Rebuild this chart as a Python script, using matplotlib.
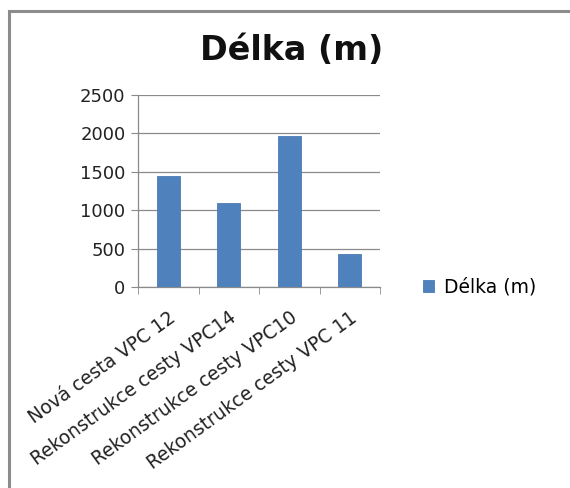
import matplotlib
matplotlib.use("Agg")
import matplotlib.pyplot as plt
from matplotlib.patches import Rectangle
import numpy as np

categories = ["Nová cesta VPC 12", "Rekonstrukce cesty VPC14",
              "Rekonstrukce cesty VPC10", "Rekonstrukce cesty VPC 11"]
lengths = [1450, 1095, 1970, 425]
series_name = "Délka (m)"
y_ticks = [0, 500, 1000, 1500, 2000, 2500]

plt.rcParams["font.family"] = ["DejaVu Sans"]

W, H = 570, 488
fig = plt.figure(figsize=(W / 100, H / 100), dpi=100)
fig.patch.set_facecolor("white")

# outer chart frame (gray border)
fig.add_artist(Rectangle((9 / W, -0.1), 1.2, (H - 11) / H + 0.1,
                         transform=fig.transFigure, fill=False,
                         edgecolor="#8c8c8c", linewidth=2.2))

ax = fig.add_axes([138 / W, (H - 287) / H, (380 - 138) / W, (287 - 95) / H])
x = np.arange(len(categories))
ax.bar(x, lengths, width=0.375, color="#4f81bd", edgecolor="#4a7ab5",
       linewidth=0.6, label=series_name, zorder=3)

ax.set_xlim(-0.5, len(categories) - 0.5)
ax.set_ylim(0, 2500)
ax.set_yticks(y_ticks)
ax.set_yticklabels([str(v) for v in y_ticks], fontsize=13, color="#222222")
ax.yaxis.grid(True, color="#8a8a8a", linewidth=0.9, zorder=0)
ax.tick_params(axis="y", length=5, color="#8a8a8a", pad=4)

ax.set_xticks(x)
ax.set_xticklabels(categories, rotation=36, ha="right", rotation_mode="anchor",
                   fontsize=13.4, color="#222222")
ax.set_xticks(np.arange(-0.5, len(categories)), minor=True)
ax.tick_params(axis="x", which="major", length=0, pad=15)
ax.tick_params(axis="x", which="minor", length=5, color="#8a8a8a")

for side in ("top", "right"):
    ax.spines[side].set_visible(False)
for side in ("left", "bottom"):
    ax.spines[side].set_color("#8a8a8a")
    ax.spines[side].set_linewidth(0.9)

fig.text(292 / W, 1 - 51 / H, series_name, ha="center", va="center",
         fontsize=24, fontweight="bold", color="#111111")

fig.legend(loc="center left", bbox_to_anchor=(406 / W, 1 - 287 / H),
           frameon=False, fontsize=13.5, handlelength=0.6, handleheight=0.6,
           handletextpad=0.5)

fig.savefig("out.png", dpi=100, facecolor="white")
